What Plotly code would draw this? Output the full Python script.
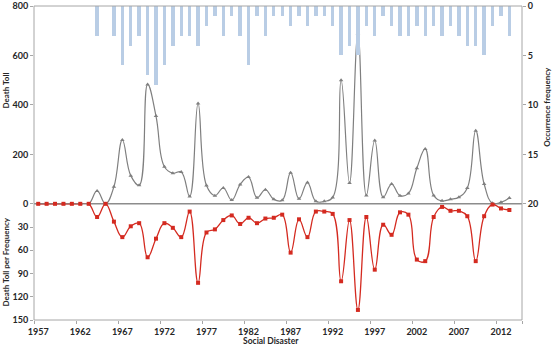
import plotly.graph_objects as go

years = list(range(1957, 2014))

# Occurrence frequency (bars hanging from top, right axis reversed)
frequency = [0, 0, 0, 0, 0, 0, 0,           # 1957-1963
             3, 0, 3, 6, 4, 3, 7, 8, 6, 4,  # 1964-1973
             3, 3, 4, 2, 1, 3, 1, 3, 6, 1,  # 1974-1983
             3, 1, 1, 2, 1, 2, 1, 1, 2, 5,  # 1984-1993
             4, 5, 2, 3, 1, 2, 3, 3, 2, 3,  # 1994-2003
             2, 3, 2, 3, 4, 4, 5, 2, 1, 3]  # 2004-2013

# Death toll (grey line, top panel)
death_toll = [0, 0, 0, 0, 0, 0, 0,
              52, 0, 69, 258, 114, 75, 483, 355, 150, 124,
              129, 30, 406, 74, 33, 64, 15, 78, 108, 25,
              57, 18, 14, 126, 20, 86, 10, 10, 26, 500,
              84, 688, 34, 256, 27, 80, 33, 42, 144, 222,
              34, 12, 18, 27, 64, 296, 80, 2, 6, 24]

# Death toll per frequency (red line, bottom panel)
per_freq = [0, 0, 0, 0, 0, 0, 0,
            17, 0, 23, 43, 29, 25, 69, 45, 25, 31,
            43, 10, 102, 37, 33, 21, 15, 26, 18, 25,
            19, 18, 14, 63, 20, 43, 10, 10, 13, 100,
            21, 137, 17, 85, 27, 40, 11, 14, 72, 74,
            17, 4, 9, 9, 16, 74, 16, 1, 6, 8]

xticks = [1957, 1962, 1967, 1972, 1977, 1982, 1987, 1992, 1997, 2002, 2007, 2012]

FONT = "Lato, Liberation Sans, sans-serif"
TXT = "#262626"
AX = "#a6a6a6"
split = 0.37

fig = go.Figure()

fig.add_trace(go.Bar(
    x=years, y=frequency, xaxis="x", yaxis="y2", width=0.4,
    marker=dict(color="#b9cde5", line=dict(width=0)), showlegend=False))

fig.add_trace(go.Scatter(
    x=years, y=death_toll, xaxis="x", yaxis="y", mode="lines+markers",
    line=dict(color="#7f7f7f", width=1.2, shape="spline", smoothing=1.2),
    marker=dict(symbol="triangle-up", size=4, color="#7f7f7f"),
    cliponaxis=False, showlegend=False))

fig.add_trace(go.Scatter(
    x=years, y=per_freq, xaxis="x", yaxis="y3", mode="lines+markers",
    line=dict(color="#d42a20", width=1.3, shape="spline", smoothing=1.2),
    marker=dict(symbol="square", size=4, color="#d42a20"),
    cliponaxis=False, showlegend=False))

tickfont = dict(family=FONT, size=9, color=TXT, weight="bold")

fig.update_layout(
    width=553, height=346,
    margin=dict(l=34, r=31, t=6, b=26, autoexpand=False),
    paper_bgcolor="white", plot_bgcolor="white",
    bargap=0,
    xaxis=dict(range=[1956.5, 2014.5], anchor="y3", tickmode="array",
               tickvals=xticks, ticktext=[str(v) for v in xticks],
               ticks="", showgrid=False, zeroline=False, showline=False,
               tickfont=tickfont, automargin=False, ticklabelstandoff=5,
               ticklabeloverflow="allow",
               minor=dict(tickmode="array",
                          tickvals=[v - 0.5 for v in xticks] + [2014.5],
                          ticks="outside", ticklen=3, tickcolor=AX, showgrid=False)),
    yaxis=dict(domain=[split, 1], range=[0, 800], tickvals=[200, 400, 600, 800],
               showgrid=False, zeroline=False, showline=False, automargin=False,
               ticklabeloverflow="allow",
               ticks="outside", ticklen=3, tickcolor=AX, tickfont=tickfont),
    yaxis2=dict(domain=[split, 1], range=[20, 0], overlaying="y", side="right",
                anchor="x", tickvals=[0, 5, 10, 15, 20], showgrid=False,
                zeroline=False, showline=False, ticks="outside", ticklen=3,
                ticklabeloverflow="allow",
                automargin=False, tickcolor=AX, tickfont=tickfont),
    yaxis3=dict(domain=[0, split], range=[150, 0], anchor="x",
                tickvals=[0, 30, 60, 90, 120, 150], showgrid=False,
                zeroline=False, showline=False, ticks="outside", ticklen=3,
                ticklabeloverflow="allow",
                automargin=False, tickcolor=AX, tickfont=tickfont),
    shapes=[
        dict(type="line", xref="paper", yref="paper", x0=0, x1=1, y0=1, y1=1,
             line=dict(color=AX, width=1)),
        dict(type="line", xref="paper", yref="paper", x0=0, x1=1, y0=0, y1=0,
             line=dict(color=AX, width=1)),
        dict(type="line", xref="paper", yref="paper", x0=0, x1=0, y0=0, y1=1,
             line=dict(color=AX, width=1)),
        dict(type="line", xref="paper", yref="paper", x0=1, x1=1, y0=0, y1=1,
             line=dict(color=AX, width=1)),
        dict(type="line", xref="paper", yref="paper", x0=0, x1=1, y0=split, y1=split,
             line=dict(color="#8c8c8c", width=1.5), layer="below"),
    ],
    annotations=[
        dict(text="Death Toll", xref="paper", yref="paper", x=-0.058, y=0.73,
             showarrow=False, textangle=-90, xanchor="center", yanchor="middle",
             font=dict(family=FONT, size=8, color=TXT, weight="bold")),
        dict(text="Death Toll per Frequency", xref="paper", yref="paper", x=-0.058,
             y=split / 2, showarrow=False, textangle=-90, xanchor="center",
             yanchor="middle",
             font=dict(family=FONT, size=8, color=TXT, weight="bold")),
        dict(text="Occurrence frequency", xref="paper", yref="paper", x=1.052,
             y=0.68, showarrow=False, textangle=-90, xanchor="center",
             yanchor="middle",
             font=dict(family=FONT, size=8, color=TXT, weight="bold")),
        dict(text="Social Disaster", xref="paper", yref="paper", x=0.485,
             y=-0.066, showarrow=False, xanchor="center", yanchor="middle",
             font=dict(family=FONT, size=8.5, color=TXT, weight="bold")),
    ],
)

fig.write_html("out.html", config={"displayModeBar": False},
               post_script="document.body.style.margin='0';")
